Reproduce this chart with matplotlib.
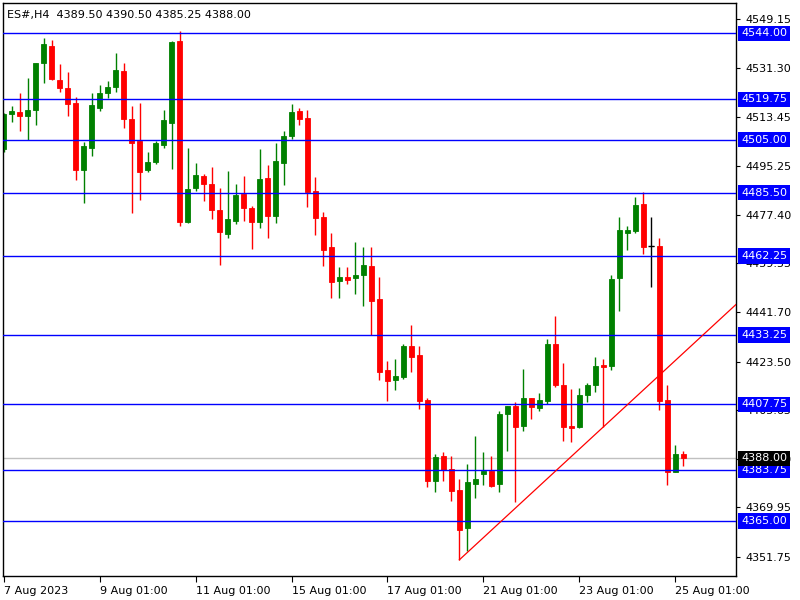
import numpy as np
import matplotlib
matplotlib.use("Agg")
import matplotlib.pyplot as plt
import matplotlib.transforms as mtransforms

symbol = "ES#,H4"

# H4 bars, oldest first
opens = [4501.5, 4514.5, 4515, 4513.75, 4515.75, 4533, 4539.25, 4527, 4523.75, 4518.25,
         4493.75, 4502, 4516.5, 4522, 4524.25, 4530, 4512.5, 4504.5, 4493.75, 4496.75,
         4503, 4511, 4541, 4474.75, 4487.25, 4491.5, 4488.5, 4479, 4470.5, 4475.25,
         4485, 4479.75, 4474.75, 4490.75, 4477, 4496.5, 4506.25, 4515.5, 4512.75, 4486,
         4476.75, 4465.5, 4453.25, 4454.5, 4454, 4455.25, 4458.5, 4446.5, 4420.5, 4416.75,
         4418, 4429.25, 4426, 4409.5, 4379.75, 4388.75, 4384, 4376.25, 4362.25, 4378.75,
         4382.25, 4383.25, 4378.75, 4404.25, 4407.25, 4400, 4410, 4406.5, 4409, 4430,
         4415, 4399.75, 4399.5, 4411.25, 4414.75, 4422.25, 4422, 4454, 4470.75, 4471.5,
         4481.25, 4466, 4465.75, 4409.5, 4383, 4389.5]
highs = [4514.75, 4517.25, 4522, 4527.75, 4533.25, 4542.25, 4541.5, 4532.75, 4529.75, 4520.5,
         4504, 4522.25, 4525, 4526.5, 4536.75, 4533.25, 4517.25, 4518.25, 4500.25, 4504.5,
         4516, 4541.25, 4545, 4501.75, 4496.25, 4492.25, 4494.75, 4487.25, 4493.5, 4488.5,
         4491.5, 4480.5, 4501.5, 4495.5, 4503.75, 4508, 4518, 4516.5, 4516, 4491.25,
         4478.25, 4470.75, 4458.25, 4458.25, 4467.25, 4465.5, 4465.5, 4454.5, 4423.75, 4424.5,
         4430, 4437, 4429.25, 4410.25, 4389.5, 4390.25, 4388.75, 4380.5, 4386, 4396.25,
         4390.25, 4388.75, 4405.25, 4407.25, 4408.75, 4420.75, 4410, 4412, 4431.75, 4440.25,
         4423, 4413.5, 4413.75, 4415.5, 4425.25, 4424.5, 4455.25, 4476.5, 4473.25, 4483.75,
         4485.75, 4476.75, 4468.75, 4415, 4393, 4390.5]
lows = [4500.25, 4511.5, 4508, 4505, 4510.25, 4525.75, 4526.75, 4522.5, 4513.75, 4490.25,
        4481.75, 4499, 4515.5, 4520.25, 4522.5, 4509.25, 4478, 4482.75, 4493, 4496,
        4502, 4494.25, 4473.25, 4474.5, 4486.25, 4482.5, 4476, 4459, 4469, 4474,
        4475.25, 4465, 4472.5, 4469, 4474.5, 4488.25, 4505.25, 4510.25, 4480.25, 4470,
        4458.75, 4447, 4447, 4452, 4448.25, 4444, 4433.25, 4416.75, 4409, 4413.25,
        4417.25, 4419.5, 4406.25, 4377.5, 4375.5, 4379.5, 4372.5, 4350.75, 4354, 4373.25,
        4378.25, 4377.5, 4375.5, 4390.5, 4372, 4398, 4402.25, 4405.5, 4407.75, 4414.25,
        4394.5, 4394, 4399.25, 4408.75, 4412.5, 4399.5, 4420.25, 4442, 4464.5, 4470.75,
        4463, 4451, 4405.75, 4378.25, 4383, 4385.25]
closes = [4514.25, 4515.5, 4513.75, 4515.75, 4533.25, 4540.25, 4527.25, 4524, 4518, 4493.75,
          4502.5, 4517.5, 4522, 4524.25, 4530.5, 4512.5, 4503.75, 4493, 4496.75, 4503.75,
          4512, 4540.75, 4474.75, 4486.75, 4492, 4488.75, 4479.25, 4471, 4475.75, 4484.5,
          4480, 4474.75, 4490.5, 4477, 4497, 4506.25, 4515, 4512.5, 4485.75, 4476.25,
          4464.5, 4452.75, 4454.5, 4453.5, 4455.25, 4459, 4445.75, 4419.5, 4416.5, 4418.25,
          4429.25, 4425, 4409, 4379.5, 4388.5, 4383.75, 4376, 4361.75, 4379.25, 4380.25,
          4383.5, 4378, 4404.25, 4407.25, 4399.5, 4410, 4407, 4409.5, 4430, 4415,
          4399.5, 4399.25, 4411.25, 4415, 4421.75, 4421.5, 4453.75, 4471.75, 4471.75, 4481,
          4465.5, 4466, 4409, 4383, 4389.5, 4388]

levels = [4544.00, 4519.75, 4505.00, 4485.50, 4462.25, 4433.25, 4407.75, 4383.75, 4365.00]
price_ticks = [4549.15, 4531.30, 4513.45, 4495.25, 4477.40, 4459.55, 4441.70,
               4423.50, 4405.65, 4387.80, 4369.95, 4351.75]
date_ticks = [0, 12, 24, 36, 48, 60, 72, 84]
date_labels = ["7 Aug 2023", "9 Aug 01:00", "11 Aug 01:00", "15 Aug 01:00",
               "17 Aug 01:00", "21 Aug 01:00", "23 Aug 01:00", "25 Aug 01:00"]
trend_from, trend_to = 57, 75  # trendline anchored on these two lows

UP = "#008000"
DOWN = "#ff0000"
LEVEL = "#0000ff"

plt.rcParams["font.family"] = ["DejaVu Sans"]

fig = plt.figure(figsize=(8, 6), dpi=100)
ax = fig.add_axes([2.5 / 800, 24 / 600, 733.5 / 800, 573.5 / 600])

x = np.arange(len(opens))
o = np.array(opens)
h = np.array(highs)
l = np.array(lows)
c = np.array(closes)

col = np.where(c > o, UP, np.where(c < o, DOWN, "black"))
ax.vlines(x, l, h, colors=col, lw=1, zorder=2)
body_lo = np.minimum(o, c)
body_h = np.abs(c - o)
ax.bar(x, body_h, bottom=body_lo, width=0.62, color=col, edgecolor=col,
       linewidth=0.6, zorder=2)
doji = c == o
ax.hlines(o[doji], x[doji] - 0.35, x[doji] + 0.35, colors="black", lw=1, zorder=2)

x_left, x_right = -0.15, 91.6
ax.set_xlim(x_left, x_right)
ax.set_ylim(4344.8, 4555.3)

# horizontal levels
for p in levels:
    ax.axhline(p, color=LEVEL, lw=1, zorder=3)
ax.axhline(closes[-1], color="#c0c0c0", lw=1, zorder=1.5)

# trend ray
slope = (lows[trend_to] - lows[trend_from]) / (trend_to - trend_from)
ax.plot([trend_from, x_right], [lows[trend_from], lows[trend_from] + slope * (x_right - trend_from)],
        color=DOWN, lw=0.9, zorder=3)

# axes styling
for s in ax.spines.values():
    s.set_color("black")
    s.set_linewidth(1)
ax.yaxis.tick_right()
ax.set_yticks(price_ticks)
ax.set_yticklabels([f"{v:.2f}" for v in price_ticks])
ax.tick_params(axis="y", direction="out", length=3, labelsize=8, pad=4, colors="black")
ax.set_xticks(date_ticks)
ax.set_xticklabels(date_labels)
ax.tick_params(axis="x", direction="out", length=4, labelsize=8, pad=3)
for t in ax.get_xticklabels():
    t.set_ha("left")

trans = mtransforms.blended_transform_factory(ax.transAxes, ax.transData)
for p in levels:
    ax.annotate(f"{p:.2f}", xy=(1, p), xycoords=trans, xytext=(5, 0),
                textcoords="offset pixels", ha="left", va="center", fontsize=8,
                color="white", annotation_clip=False, zorder=5,
                bbox=dict(boxstyle="square,pad=0.25", fc=LEVEL, ec="none"))
ax.annotate(f"{closes[-1]:.2f}", xy=(1, closes[-1]), xycoords=trans, xytext=(5, 0),
            textcoords="offset pixels", ha="left", va="center", fontsize=8,
            color="white", annotation_clip=False, zorder=5,
            bbox=dict(boxstyle="square,pad=0.25", fc="black", ec="none"))

header = f"{symbol}  {opens[-1]:.2f} {highs[-1]:.2f} {lows[-1]:.2f} {closes[-1]:.2f}"
ax.text(0.006, 0.987, header, transform=ax.transAxes, ha="left", va="top",
        fontsize=8, color="black", zorder=6)

fig.savefig("out.png", dpi=100, facecolor="white")
